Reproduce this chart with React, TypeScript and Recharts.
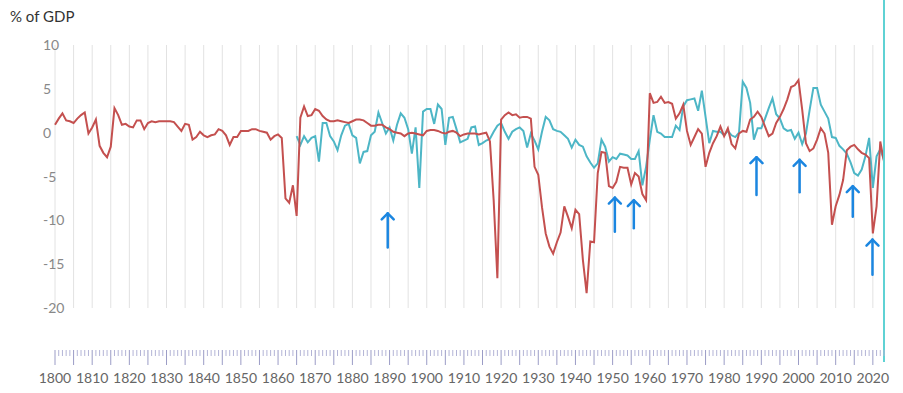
import React from 'react';
import { ComposedChart, Line, XAxis, YAxis, ReferenceLine } from 'recharts';

// yearly balance, % of GDP
const START_YEAR = 1800;
const END_YEAR = 2023;
const TEAL_START = 1865;

const redSeries = [
  0.9, 1.6, 2.2, 1.4, 1.3, 1.1, 1.6, 2.0, 2.3, -0.1,
  0.6, 1.5, -1.5, -2.3, -2.8, -1.6, 2.8, 2.0, 0.9, 1.0,
  0.7, 0.6, 1.4, 1.4, 0.4, 1.1, 1.3, 1.2, 1.3, 1.3,
  1.3, 1.3, 1.2, 0.7, 0.2, 1.0, 0.9, -0.8, -0.5, 0.1,
  -0.3, -0.5, -0.3, -0.2, 0.4, 0.2, -0.3, -1.4, -0.5, -0.5,
  0.2, 0.2, 0.2, 0.4, 0.4, 0.2, 0.1, 0.0, -0.8, -0.4,
  -0.2, -0.6, -7.5, -8.0, -6.0, -9.5, 1.7, 3.0, 1.9, 2.0,
  2.7, 2.5, 1.9, 1.5, 1.3, 1.3, 1.4, 1.3, 1.2, 1.1,
  1.3, 1.5, 1.5, 1.4, 1.1, 0.8, 0.8, 0.9, 0.9, 0.6,
  0.4, 0.1, 0.0, -0.1, -0.4, -0.1, 0.0, -0.1, -0.2, -0.3,
  0.2, 0.3, 0.3, 0.2, 0.0, -0.1, 0.1, 0.2, 0.0, -0.4,
  -0.2, -0.1, -0.1, -0.1, -0.2, -0.1, 0.0, -1.0, -7.7, -16.6,
  1.5, 2.0, 2.3, 2.0, 2.1, 1.7, 1.8, 1.8, 1.6, -3.9,
  -4.8, -8.5, -11.5, -13.0, -13.8, -12.5, -11.4, -8.4, -9.6, -10.9,
  -8.8, -9.3, -14.5, -18.3, -12.4, -12.5, -4.6, -2.2, -2.3, -6.1,
  -6.3, -5.6, -3.9, -4.0, -4.0, -5.9, -4.6, -5.0, -7.0, -7.7,
  4.5, 3.4, 3.5, 4.1, 3.4, 3.5, 3.3, 1.6, 2.2, 3.2,
  0.2, -1.4, -0.5, 0.4, -0.1, -3.9, -2.3, -1.2, -0.4, 0.7,
  -0.4, 0.5, -1.3, -1.8, -0.1, 0.2, 0.1, 1.5, 1.8, 2.4,
  1.8, 0.7, -0.4, -0.1, 1.1, 1.8, 2.7, 3.8, 5.2, 5.4,
  6.0, 2.6, -1.2, -2.1, -1.8, -0.8, 0.5, -0.1, -2.3, -10.5,
  -8.4, -7.1, -5.4, -2.0, -1.6, -1.4, -1.9, -2.3, -2.5, -2.9,
  -11.5, -8.4, -1.0, -3.3,
];

const tealSeries = [
  -0.4, -1.4, -0.4, -1.1, -0.6,
  -0.4, -3.3, 1.1, 1.1, -0.4, -1.0, -2.0, -0.3, 0.8, 1.0,
  -0.3, -0.6, -3.5, -2.2, -2.1, -0.3, 0.1, 2.3, 1.1, -0.1,
  0.6, -0.9, 0.9, 2.2, 1.7, 0.4, -2.4, 0.6, -6.3, 2.4,
  2.7, 2.7, 1.0, 3.2, 2.7, -1.4, 1.7, 1.8, 0.4, -1.1,
  -0.9, -0.7, 0.6, 0.7, -1.4, -1.2, -0.9, -0.7, 0.1, 0.8,
  1.1, 0.1, -0.7, 0.1, 0.4, 0.6, 0.2, -1.7, -0.1, -0.9,
  -1.9, 0.1, 1.8, 1.4, 0.4, 0.2, 0.1, -0.3, -0.7, -1.7,
  -0.8, -1.4, -1.6, -2.7, -3.4, -4.0, -3.5, -0.8, -1.6, -3.3,
  -2.8, -3.0, -2.4, -2.5, -2.6, -3.0, -3.0, -2.1, -6.0, -3.9,
  -0.8, 2.0, 0.1, -0.1, -0.5, -0.5, -0.5, 0.8, 0.3, 3.0,
  3.7, 3.8, 3.9, 2.5, 4.8, 1.8, -1.2, 0.2, 0.1, 0.1,
  -0.3, 0.2, -0.3, -0.5, 0.0, 5.8, 5.1, 3.4, -0.8, 0.5,
  0.5, 1.6, 2.8, 3.9, 2.1, 1.6, 0.5, 0.2, 0.3, -0.7,
  0.0, -1.3, -0.1, 2.6, 5.1, 5.1, 3.2, 2.4, 1.6, -0.5,
  -0.6, -1.5, -1.9, -2.4, -3.4, -4.6, -4.9, -4.2, -2.7, -0.6,
  -6.3, -2.7, -1.9, -3.1,
];

const yTicks = [10, 5, 0, -5, -10, -15, -20];

// annotation arrows: x position (year), arrow tip and tail values
const arrowYears = [1889.5, 1950.6, 1955.7, 1988.7, 2000.3, 2014.6, 2019.9];
const arrowTips = [-9.2, -7.4, -7.7, -2.8, -3.1, -6.1, -12.2];
const arrowTails = [-13.1, -11.3, -10.9, -7.1, -6.8, -9.6, -16.2];

const years: number[] = [];
for (let y = START_YEAR; y <= END_YEAR; y++) years.push(y);
const gridYears = years.filter(y => y % 5 === 0);

const data = years.map((year, i) => ({
  year,
  red: redSeries[i],
  teal: year >= TEAL_START ? tealSeries[year - TEAL_START] : null,
}));

const RED = '#c4504f';
const TEAL = '#4db6c6';
const ARROW = '#1b86e0';
const FONT = 'Lato, "Noto Sans", sans-serif';

const YearTick = (props: any) => {
  const { x, payload } = props;
  const year = payload.value as number;
  const major = year % 5 === 0;
  return (
    <g>
      <line
        x1={x} x2={x} y1={350} y2={major ? 365 : 356}
        stroke={major ? '#9b9cc6' : '#b3b4d6'} strokeWidth={1}
      />
      {year % 10 === 0 && (
        <text x={x} y={383} textAnchor="middle" fontSize={14} fill="#666" fontFamily={FONT}>
          {year}
        </text>
      )}
    </g>
  );
};

const ValueTick = (props: any) => {
  const { y, payload } = props;
  return (
    <text x={43} y={y} dy={5} textAnchor="start" fontSize={14} fill="#888" fontFamily={FONT}>
      {payload.value}
    </text>
  );
};

const Arrow = (props: any) => {
  const { x1, y1, x2, y2 } = props;
  if (x1 == null) return null;
  return (
    <g stroke={ARROW} strokeWidth={2.5} fill="none" strokeLinecap="round" strokeLinejoin="round">
      <line x1={x1} y1={y1} x2={x2} y2={y2} />
      <polyline points={`${x2 - 6},${y2 + 6} ${x2},${y2} ${x2 + 6},${y2 + 6}`} />
    </g>
  );
};

const EndMarker = (props: any) => {
  const { x1 } = props;
  if (x1 == null) return null;
  return <line x1={x1} x2={x1} y1={0} y2={362} stroke="#5fd2d4" strokeWidth={2} />;
};

export default function App() {
  return (
    <div style={{ position: 'absolute', left: 0, top: 0, width: 903, height: 393, background: '#fff', fontFamily: FONT }}>
      <div style={{ position: 'absolute', left: 10, top: 7, fontSize: 15, color: '#333' }}>% of GDP</div>
      <ComposedChart
        width={903}
        height={393}
        data={data}
        margin={{ top: 45, right: 19, bottom: 0, left: 0 }}
      >
        <XAxis
          dataKey="year"
          type="number"
          domain={[START_YEAR, END_YEAR]}
          ticks={years}
          interval={0}
          height={85}
          axisLine={false}
          tickLine={false}
          tick={<YearTick />}
        />
        <YAxis
          domain={[-20, 10]}
          ticks={yTicks}
          width={55}
          axisLine={false}
          tickLine={false}
          tick={<ValueTick />}
        />
        {gridYears.map(y => (
          <ReferenceLine key={y} x={y} stroke="#e2e2e2" strokeWidth={1} />
        ))}
        <Line
          dataKey="teal"
          stroke={TEAL}
          strokeWidth={2}
          dot={false}
          type="linear"
          isAnimationActive={false}
        />
        <Line
          dataKey="red"
          stroke={RED}
          strokeWidth={2}
          dot={false}
          type="linear"
          isAnimationActive={false}
        />
        {arrowYears.map((yr, i) => (
          <ReferenceLine
            key={'a' + i}
            segment={[{ x: yr, y: arrowTails[i] }, { x: yr, y: arrowTips[i] }]}
            ifOverflow="visible"
            shape={<Arrow />}
          />
        ))}
        <ReferenceLine x={END_YEAR} ifOverflow="visible" shape={<EndMarker />} />
      </ComposedChart>
    </div>
  );
}
